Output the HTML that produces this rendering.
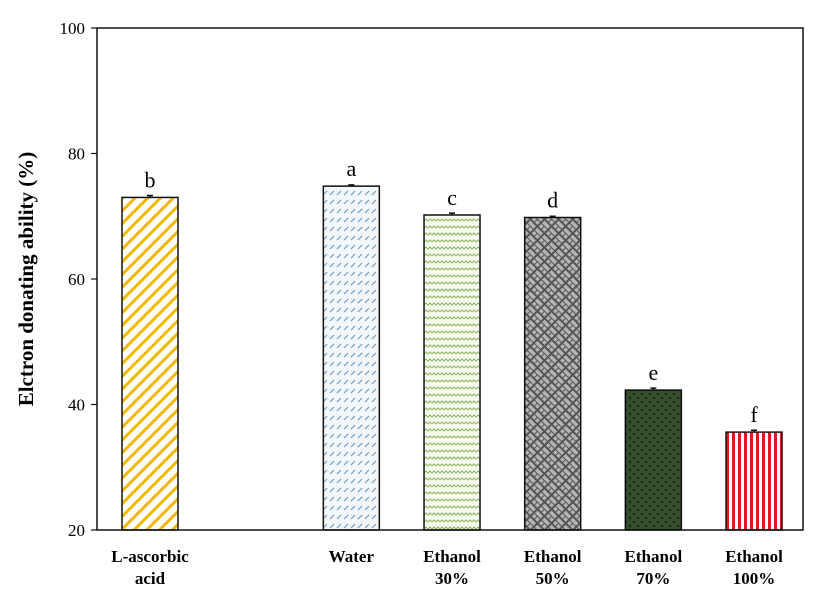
<!DOCTYPE html>
<html><head><meta charset="utf-8"><style>
html,body{margin:0;padding:0;background:#fff;width:827px;height:610px;overflow:hidden}
svg text{font-family:"Liberation Serif",serif}
</style></head><body>
<svg id="chart" width="827" height="610" xmlns="http://www.w3.org/2000/svg">
<defs>
<pattern id="p0" patternUnits="userSpaceOnUse" width="9" height="9" patternTransform="rotate(45)"><rect width="9" height="9" fill="#fff"/><rect width="3" height="9" fill="#f2b800"/></pattern>
<pattern id="p1" patternUnits="userSpaceOnUse" width="7" height="9"><rect width="7" height="9" fill="#f4f8fc"/><line x1="1" y1="6" x2="5" y2="2" stroke="#6f9ac4" stroke-width="1.2"/></pattern>
<pattern id="p2" patternUnits="userSpaceOnUse" width="8" height="7"><rect width="8" height="7" fill="#f6faee"/><path d="M0 4 L2 2 L4 4 L6 2 L8 4" fill="none" stroke="#8db862" stroke-width="1"/></pattern>
<pattern id="p3" patternUnits="userSpaceOnUse" width="10" height="10" patternTransform="rotate(45)"><rect width="10" height="10" fill="#555"/><rect x="1" y="1" width="8" height="3.5" fill="#b4b4b4"/><rect x="1" y="5.5" width="3.5" height="3.5" fill="#b4b4b4"/><rect x="5.5" y="5.5" width="3.5" height="3.5" fill="#b4b4b4"/></pattern>
<pattern id="p4" patternUnits="userSpaceOnUse" width="8" height="8"><rect width="8" height="8" fill="#33502a"/><circle cx="2" cy="2" r="1" fill="#111"/><circle cx="6" cy="6" r="1" fill="#111"/></pattern>
<pattern id="p5" patternUnits="userSpaceOnUse" width="6" height="6"><rect width="6" height="6" fill="#fff"/><rect width="3" height="6" fill="#e8141e"/></pattern>
</defs>
<g id="plot"></g>
</svg>
<script>
const categories = ["L-ascorbic|acid","Water","Ethanol|30%","Ethanol|50%","Ethanol|70%","Ethanol|100%"];
const slots = [0,2,3,4,5,6];
const values = [73.0,74.8,70.2,69.8,42.3,35.6];
const errors = [0.3,0.2,0.3,0.2,0.3,0.3];
const letters = ["b","a","c","d","e","f"];
const yTicks = [20,40,60,80,100];
const NS="http://www.w3.org/2000/svg";
const L=97,R=803,T=28,B=530,ymin=20,ymax=100;
const y=v=>B-(v-ymin)/(ymax-ymin)*(B-T);
const slotW=100.67, x0=99.67;
const xc=s=>x0+slotW*(s+0.5);
const g=document.getElementById('plot');
function mk(tag,attrs){const e=document.createElementNS(NS,tag);for(const k in attrs)e.setAttribute(k,attrs[k]);g.appendChild(e);return e;}
values.forEach((v,i)=>{
  const cx=xc(slots[i]),w=56;
  const r=mk('rect',{x:cx-w/2,y:y(v),width:w,height:B-y(v),fill:'url(#p'+i+')',stroke:'#111','stroke-width':1.5});
  
  
  const e=mk('path',{d:`M${cx} ${y(v+errors[i])}V${y(v)}M${cx-3} ${y(v+errors[i])}H${cx+3}`,stroke:'#111','stroke-width':1.5});
  
  
  const t=mk('text',{x:cx,y:y(v)-10,'text-anchor':'middle','font-size':22});
  t.textContent=letters[i];
  
  
  const parts=categories[i].split('|');
  parts.forEach((p,j)=>{
    const c=mk('text',{x:cx,y:562+j*22,'text-anchor':'middle','font-size':17,'font-weight':'bold'});
    c.textContent=p;
    
    
  });
});
yTicks.forEach(v=>{
  const l=mk('line',{x1:L-6,x2:L,y1:y(v),y2:y(v),stroke:'#111','stroke-width':1.2});
  
  
  const t=mk('text',{x:L-12,y:y(v)+6,'text-anchor':'end','font-size':17});
  t.textContent=v;
  
  
});
const f=mk('rect',{x:L,y:T,width:R-L,height:B-T,fill:'none',stroke:'#111','stroke-width':1.5});


const yt=mk('text',{x:0,y:0,'text-anchor':'middle','font-size':21,'font-weight':'bold',transform:`translate(33,${(T+B)/2}) rotate(-90)`});
yt.textContent='Elctron donating ability (%)';


</script>
</body></html>
